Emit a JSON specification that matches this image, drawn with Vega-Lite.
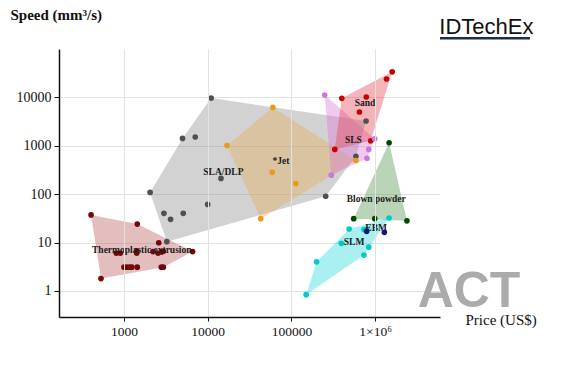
{
  "$schema": "https://vega.github.io/schema/vega-lite/v6.json",
  "width": 381,
  "height": 268,
  "autosize": {"type": "none"},
  "padding": {"left": 59, "top": 49, "right": 135, "bottom": 64},
  "background": "white",
  "config": {
    "view": {"stroke": null},
    "axis": {
      "labelFont": "Liberation Serif",
      "labelFontSize": 14,
      "labelColor": "#111",
      "titleFont": "Liberation Serif",
      "titleColor": "#111",
      "domainColor": "#111",
      "domainWidth": 1.5,
      "tickColor": "#111",
      "tickSize": 4,
      "gridColor": "#e2e2e2",
      "gridWidth": 1
    }
  },
  "datasets": {
    "points": [
      {"tech": "Thermoplastic extrusion", "x": 404, "y": 37},
      {"tech": "Thermoplastic extrusion", "x": 1440, "y": 24},
      {"tech": "Thermoplastic extrusion", "x": 2600, "y": 9.9},
      {"tech": "Thermoplastic extrusion", "x": 531, "y": 1.8},
      {"tech": "Thermoplastic extrusion", "x": 6600, "y": 6.5},
      {"tech": "Thermoplastic extrusion", "x": 809, "y": 6.0},
      {"tech": "Thermoplastic extrusion", "x": 903, "y": 6.0},
      {"tech": "Thermoplastic extrusion", "x": 1420, "y": 6.7},
      {"tech": "Thermoplastic extrusion", "x": 1420, "y": 6.0},
      {"tech": "Thermoplastic extrusion", "x": 2220, "y": 6.5},
      {"tech": "Thermoplastic extrusion", "x": 2550, "y": 6.0},
      {"tech": "Thermoplastic extrusion", "x": 2820, "y": 6.4},
      {"tech": "Thermoplastic extrusion", "x": 2950, "y": 6.6},
      {"tech": "Thermoplastic extrusion", "x": 1000, "y": 3.1},
      {"tech": "Thermoplastic extrusion", "x": 1080, "y": 3.1},
      {"tech": "Thermoplastic extrusion", "x": 1170, "y": 3.1},
      {"tech": "Thermoplastic extrusion", "x": 1240, "y": 3.1},
      {"tech": "Thermoplastic extrusion", "x": 1440, "y": 3.1},
      {"tech": "Thermoplastic extrusion", "x": 2790, "y": 3.1},
      {"tech": "Thermoplastic extrusion", "x": 2950, "y": 3.1},
      {"tech": "SLA/DLP", "x": 11000, "y": 9500},
      {"tech": "SLA/DLP", "x": 5000, "y": 1400},
      {"tech": "SLA/DLP", "x": 7100, "y": 1500},
      {"tech": "SLA/DLP", "x": 14400, "y": 210},
      {"tech": "SLA/DLP", "x": 2050, "y": 108},
      {"tech": "SLA/DLP", "x": 10000, "y": 61},
      {"tech": "SLA/DLP", "x": 3000, "y": 40},
      {"tech": "SLA/DLP", "x": 5100, "y": 40},
      {"tech": "SLA/DLP", "x": 3600, "y": 30},
      {"tech": "SLA/DLP", "x": 3250, "y": 10.4},
      {"tech": "SLA/DLP", "x": 780000, "y": 3200},
      {"tech": "SLA/DLP", "x": 590000, "y": 600},
      {"tech": "SLA/DLP", "x": 257000, "y": 90},
      {"tech": "Jet", "x": 17000, "y": 1000},
      {"tech": "Jet", "x": 60000, "y": 6100},
      {"tech": "Jet", "x": 59000, "y": 280},
      {"tech": "Jet", "x": 43000, "y": 31},
      {"tech": "Jet", "x": 113000, "y": 165},
      {"tech": "Jet", "x": 590000, "y": 490},
      {"tech": "Sand", "x": 1600000, "y": 33000},
      {"tech": "Sand", "x": 1370000, "y": 23500},
      {"tech": "Sand", "x": 400000, "y": 9400},
      {"tech": "Sand", "x": 785000, "y": 10000},
      {"tech": "Sand", "x": 650000, "y": 4900},
      {"tech": "Sand", "x": 885000, "y": 1250},
      {"tech": "Sand", "x": 330000, "y": 830},
      {"tech": "SLS", "x": 250000, "y": 11000},
      {"tech": "SLS", "x": 990000, "y": 1380},
      {"tech": "SLS", "x": 840000, "y": 830},
      {"tech": "SLS", "x": 800000, "y": 545},
      {"tech": "SLS", "x": 300000, "y": 245},
      {"tech": "Blown powder", "x": 1470000, "y": 1140},
      {"tech": "Blown powder", "x": 555000, "y": 31},
      {"tech": "Blown powder", "x": 990000, "y": 31},
      {"tech": "Blown powder", "x": 2400000, "y": 28},
      {"tech": "SLM", "x": 150000, "y": 0.84},
      {"tech": "SLM", "x": 200000, "y": 4},
      {"tech": "SLM", "x": 395000, "y": 9.6},
      {"tech": "SLM", "x": 490000, "y": 19},
      {"tech": "SLM", "x": 736000, "y": 18.5},
      {"tech": "SLM", "x": 793000, "y": 18.8},
      {"tech": "SLM", "x": 840000, "y": 8},
      {"tech": "SLM", "x": 736000, "y": 5.5},
      {"tech": "SLM", "x": 1470000, "y": 32},
      {"tech": "EBM", "x": 793000, "y": 17},
      {"tech": "EBM", "x": 1290000, "y": 16.2}
    ],
    "hulls": [
      {"tech": "SLA/DLP", "ord": 1, "x": 2050, "y": 108},
      {"tech": "SLA/DLP", "ord": 2, "x": 5000, "y": 1400},
      {"tech": "SLA/DLP", "ord": 3, "x": 11000, "y": 9500},
      {"tech": "SLA/DLP", "ord": 4, "x": 780000, "y": 3200},
      {"tech": "SLA/DLP", "ord": 5, "x": 590000, "y": 600},
      {"tech": "SLA/DLP", "ord": 6, "x": 257000, "y": 90},
      {"tech": "SLA/DLP", "ord": 7, "x": 3250, "y": 10.4},
      {"tech": "Thermoplastic extrusion", "ord": 1, "x": 404, "y": 37},
      {"tech": "Thermoplastic extrusion", "ord": 2, "x": 1440, "y": 24},
      {"tech": "Thermoplastic extrusion", "ord": 3, "x": 6600, "y": 6.5},
      {"tech": "Thermoplastic extrusion", "ord": 4, "x": 2950, "y": 3.1},
      {"tech": "Thermoplastic extrusion", "ord": 5, "x": 531, "y": 1.8},
      {"tech": "Jet", "ord": 1, "x": 17000, "y": 1000},
      {"tech": "Jet", "ord": 2, "x": 60000, "y": 6100},
      {"tech": "Jet", "ord": 3, "x": 590000, "y": 490},
      {"tech": "Jet", "ord": 4, "x": 43000, "y": 31},
      {"tech": "SLS", "ord": 1, "x": 250000, "y": 11000},
      {"tech": "SLS", "ord": 2, "x": 990000, "y": 1380},
      {"tech": "SLS", "ord": 3, "x": 800000, "y": 545},
      {"tech": "SLS", "ord": 4, "x": 300000, "y": 245},
      {"tech": "Sand", "ord": 1, "x": 400000, "y": 9400},
      {"tech": "Sand", "ord": 2, "x": 1600000, "y": 33000},
      {"tech": "Sand", "ord": 3, "x": 885000, "y": 1250},
      {"tech": "Sand", "ord": 4, "x": 330000, "y": 830},
      {"tech": "Blown powder", "ord": 1, "x": 1470000, "y": 1140},
      {"tech": "Blown powder", "ord": 2, "x": 2400000, "y": 28},
      {"tech": "Blown powder", "ord": 3, "x": 555000, "y": 31},
      {"tech": "SLM", "ord": 1, "x": 150000, "y": 0.84},
      {"tech": "SLM", "ord": 2, "x": 200000, "y": 4},
      {"tech": "SLM", "ord": 3, "x": 490000, "y": 19},
      {"tech": "SLM", "ord": 4, "x": 1470000, "y": 32},
      {"tech": "SLM", "ord": 5, "x": 736000, "y": 5.5}
    ],
    "labels": [
      {"label": "Thermoplastic extrusion", "x": 1630, "y": 7.0},
      {"label": "SLA/DLP", "x": 15400, "y": 280},
      {"label": "*Jet", "x": 75200, "y": 479},
      {"label": "Sand", "x": 757000, "y": 7420},
      {"label": "SLS", "x": 550000, "y": 1280},
      {"label": "Blown powder", "x": 1030000, "y": 77.8},
      {"label": "EBM", "x": 1030000, "y": 19.6},
      {"label": "SLM", "x": 561000, "y": 10.1}
    ]
  },
  "encoding": {
    "x": {
      "field": "x",
      "type": "quantitative",
      "scale": {"type": "log", "domain": [167.2, 5963000], "nice": false},
      "axis": {
        "values": [1000, 10000, 100000, 1000000],
        "labelExpr": "datum.value == 1000000 ? '1×10⁶' : format(datum.value, 'd')",
        "labelFontSize": 13.5,
        "labelPadding": 3,
        "title": "Price  (US$)",
        "titleFontSize": 15,
        "titleFontWeight": "normal",
        "titleAlign": "left",
        "titleAnchor": null,
        "titleBaseline": "middle",
        "titleX": 406,
        "titleY": 2,
        "zindex": 1
      }
    },
    "y": {
      "field": "y",
      "type": "quantitative",
      "scale": {"type": "log", "domain": [0.291, 97700], "nice": false},
      "axis": {
        "values": [1, 10, 100, 1000, 10000],
        "format": "d",
        "labelPadding": 3,
        "tickSize": 5,
        "title": "Speed  (mm³/s)",
        "titleFontSize": 15,
        "titleFontWeight": "bold",
        "titleAngle": 0,
        "titleAlign": "left",
        "titleAnchor": null,
        "titleBaseline": "middle",
        "titleX": -49,
        "titleY": -35
      }
    }
  },
  "layer": [
    {
      "data": {"name": "hulls"},
      "mark": {"type": "line", "filled": true, "fillOpacity": 0.4, "strokeWidth": 0},
      "encoding": {
        "order": {"field": "ord", "type": "quantitative"},
        "detail": {"field": "tech", "type": "nominal"},
        "color": {
          "field": "tech",
          "type": "nominal",
          "legend": null,
          "scale": {
            "domain": ["SLA/DLP", "Thermoplastic extrusion", "Jet", "SLS", "Sand", "Blown powder", "SLM", "EBM"],
            "range": ["#8e8e8e", "#bc5c5c", "#e6ac55", "#d976d9", "#e64450", "#509448", "#2ad9d9", "#1a1a80"]
          }
        }
      }
    },
    {
      "data": {"name": "points"},
      "mark": {"type": "circle", "size": 32, "opacity": 1},
      "encoding": {
        "fill": {
          "field": "tech",
          "type": "nominal",
          "legend": null,
          "scale": {
            "domain": ["SLA/DLP", "Thermoplastic extrusion", "Jet", "SLS", "Sand", "Blown powder", "SLM", "EBM"],
            "range": ["#505050", "#720808", "#e89a18", "#c87ad8", "#c80000", "#004a00", "#00caca", "#14147a"]
          }
        }
      }
    },
    {
      "data": {"name": "labels"},
      "mark": {"type": "text", "font": "Liberation Serif", "fontSize": 9.5, "fontWeight": "bold", "color": "#1a1a1a", "align": "center", "baseline": "middle"},
      "encoding": {"text": {"field": "label"}}
    },
    {
      "data": {"values": [{"label": "ACT", "x": 13250000, "y": 0.47}]},
      "mark": {"type": "text", "font": "Liberation Sans", "fontWeight": "bold", "fontSize": 50, "color": "#ababab", "align": "center", "baseline": "alphabetic"},
      "encoding": {"text": {"field": "label"}}
    },
    {
      "data": {"values": [{"label": "IDTechEx", "x": 21400000, "y": 194500}]},
      "mark": {"type": "text", "font": "Liberation Sans", "fontSize": 22, "color": "#111", "align": "center", "baseline": "alphabetic"},
      "encoding": {"text": {"field": "label"}}
    },
    {
      "data": {"values": [{"x": 5960000, "x2": 71000000, "y": 162200}]},
      "mark": {"type": "rule", "color": "#1f2d4d", "strokeWidth": 2.5},
      "encoding": {"x2": {"field": "x2"}}
    }
  ],
  "resolve": {"scale": {"color": "independent", "fill": "independent"}}
}
